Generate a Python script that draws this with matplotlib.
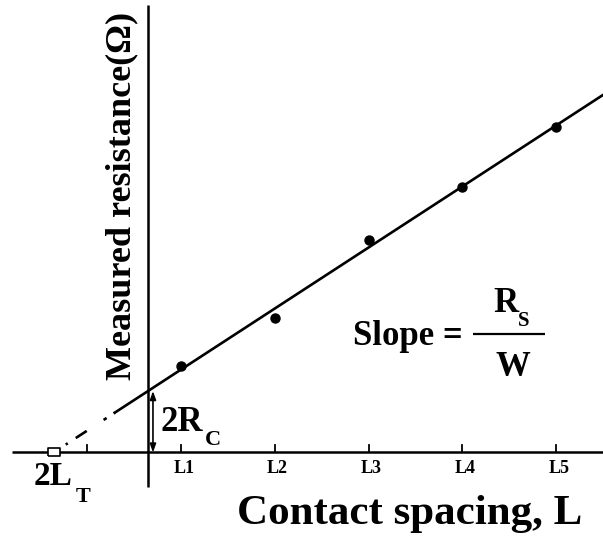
import numpy as np
import matplotlib
matplotlib.use("Agg")
import matplotlib.pyplot as plt
from matplotlib.transforms import Affine2D

# ---- data ----
tick_labels = ["L1", "L2", "L3", "L4", "L5"]
spacing = [1, 2, 3, 4, 5]
resistance = [0.923, 1.431, 2.267, 2.835, 3.475]
extra_ticks = [0]
yaxis_x = 0.648

plt.rcParams['font.family'] = ['Liberation Serif', 'DejaVu Serif']
plt.rcParams['font.weight'] = 'bold'
plt.rcParams['lines.scale_dashes'] = False

W, H = 603, 536
fig = plt.figure(figsize=(W / 100, H / 100), dpi=100)
ax = fig.add_axes([0, 0, 1, 1])
ax.set_xlim(-0.9307, 5.5013)
ax.set_ylim(-0.8907, 4.8267)
ax.axis('off')

# pixel transform (origin top-left) for annotations
pix = Affine2D().scale(1 / W, -1 / H).translate(0, 1) + fig.transFigure

# axes lines
ax.plot([-0.80, 5.5013], [0, 0], color='k', lw=1.8, solid_capstyle='butt')
ax.plot([yaxis_x, yaxis_x], [-0.368, 4.773], color='k', lw=1.8, solid_capstyle='butt')

# ticks
for t in extra_ticks + spacing:
    ax.plot([t, t], [0, 0.075], color='k', lw=1.3)
for t, lab in zip(spacing, tick_labels):
    ax.text(t + 0.03, -0.17, lab, ha='center', va='center', fontsize=13,
            fontweight='bold')

# fit
slope, icpt = np.polyfit(spacing, resistance, 1)
x_int = -icpt / slope
xs = np.array([0.296, 5.5013])
ax.plot(xs, slope * xs + icpt, color='k', lw=1.9)
xd = np.array([x_int + 0.13, 0.296])
ax.plot(xd, slope * xd + icpt, color='k', lw=1.9,
        ls=(0, (1.7, 6.9, 9.4, 14.5, 2.6, 6)), dash_capstyle='butt')

# data points
ax.plot(spacing, resistance, 'o', color='k', ms=6.5, zorder=5)

# 2L_T marker
rect = [(-1.5, -1), (1.5, -1), (1.5, 1), (-1.5, 1), (-1.5, -1)]
ax.plot([x_int], [0], marker=rect, ms=8, mfc='white', mec='k', mew=1.2, zorder=6)

# 2R_C arrow
y_ax = slope * yaxis_x + icpt
ax.annotate('', xy=(yaxis_x + 0.053, y_ax), xytext=(yaxis_x + 0.053, 0),
            arrowprops=dict(arrowstyle='<|-|>,head_length=0.5,head_width=0.18',
                            lw=1.2, color='k', shrinkA=0, shrinkB=0))

# texts
ax.text(160, 431, '2R', transform=pix, fontsize=25, ha='left', va='baseline')
ax.text(205, 445, 'C', transform=pix, fontsize=16, ha='left', va='baseline')
ax.text(34, 485, '2L', transform=pix, fontsize=24, ha='left', va='baseline')
ax.text(76, 502, 'T', transform=pix, fontsize=16, ha='left', va='baseline')

ax.text(353, 345, 'Slope =', transform=pix, fontsize=25, ha='left', va='baseline')
ax.plot([473, 545], [334, 334], transform=pix, color='k', lw=1.6, solid_capstyle='butt')
ax.text(493, 312, 'R', transform=pix, fontsize=25, ha='left', va='baseline')
ax.text(518, 326, 'S', transform=pix, fontsize=15, ha='left', va='baseline')
ax.text(513, 376, 'W', transform=pix, fontsize=25, ha='center', va='baseline')

ax.text(237, 524, 'Contact spacing, L', transform=pix, fontsize=31, ha='left',
        va='baseline')
ax.text(122, 196, 'Measured resistance(Ω)', transform=pix, fontsize=26,
        rotation=90, ha='center', va='center')

fig.savefig('out.png', dpi=100)
